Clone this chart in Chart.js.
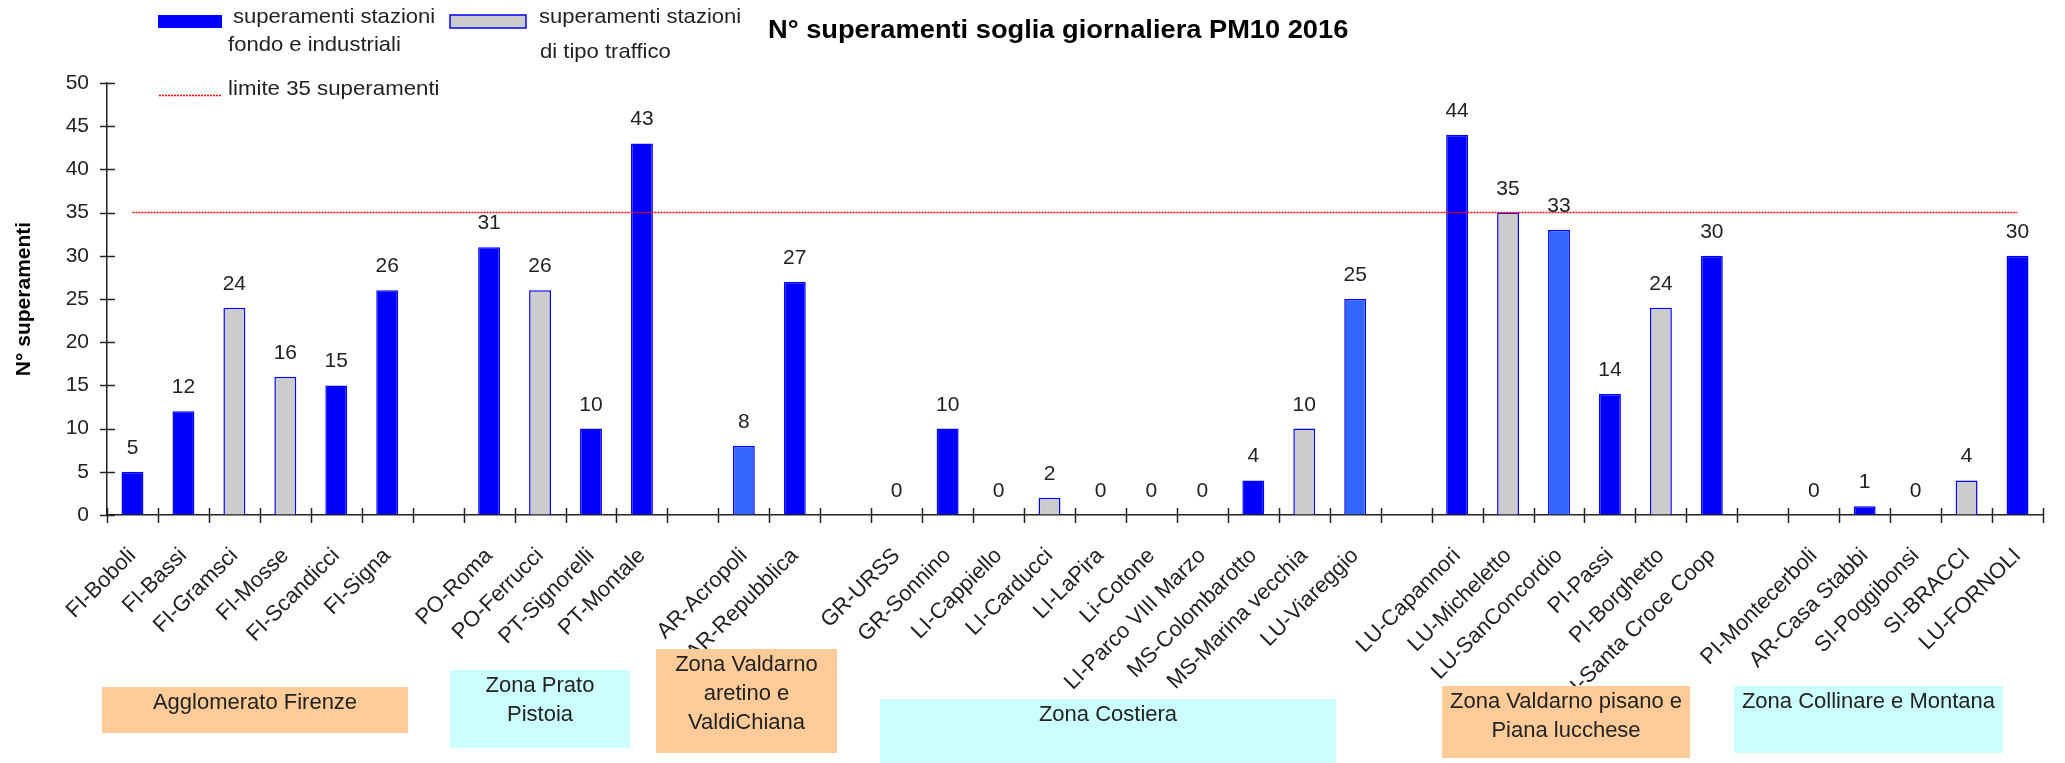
<!DOCTYPE html>
<html>
<head>
<meta charset="utf-8">
<script src="https://cdn.jsdelivr.net/npm/chart.js@4"></script>
<style>
  html, body { margin: 0; padding: 0; background: #fff; }
  #wrap { width: 2065px; height: 763px; }
</style>
</head>
<body>
<div id="wrap"><canvas id="pm10Chart" width="2065" height="763"></canvas></div>
<script>
// stations along the x axis ('' = empty slot between zones)
const stations = [
  "FI-Boboli", "FI-Bassi", "FI-Gramsci", "FI-Mosse", "FI-Scandicci", "FI-Signa", "",
  "PO-Roma", "PO-Ferrucci", "PT-Signorelli", "PT-Montale", "",
  "AR-Acropoli", "AR-Repubblica", "",
  "GR-URSS", "GR-Sonnino", "LI-Cappiello", "LI-Carducci", "LI-LaPira", "Li-Cotone",
  "LI-Parco VIII Marzo", "MS-Colombarotto", "MS-Marina vecchia", "LU-Viareggio", "",
  "LU-Capannori", "LU-Micheletto", "LU-SanConcordio", "PI-Passi", "PI-Borghetto", "PI-Santa Croce Coop", "",
  "PI-Montecerboli", "AR-Casa Stabbi", "SI-Poggibonsi", "SI-BRACCI", "LU-FORNOLI"
];

// n. of days above the PM10 daily limit, 2016
const exceedances = [
  5, 12, 24, 16, 15, 26, null,
  31, 26, 10, 43, null,
  8, 27, null,
  0, 10, 0, 2, 0, 0, 0, 4, 10, 25, null,
  44, 35, 33, 14, 24, 30, null,
  0, 1, 0, 4, 30
];

// F = fondo/industriale, T = traffico, S = fondo (other shade)
const stationType = [
  "F", "F", "T", "T", "F", "F", "",
  "F", "T", "F", "F", "",
  "S", "F", "",
  "F", "F", "F", "T", "F", "F", "F", "F", "T", "S", "",
  "F", "T", "S", "F", "T", "F", "",
  "F", "F", "F", "T", "F"
];

const limitValue = 35;
const yTicks = { min: 0, max: 50, step: 5 };

const zoneNames = [
  ["Agglomerato Firenze"],
  ["Zona Prato", "Pistoia"],
  ["Zona Valdarno", "aretino e", "ValdiChiana"],
  ["Zona Costiera"],
  ["Zona Valdarno pisano e", "Piana lucchese"],
  ["Zona Collinare e Montana"]
];

// layout of the zone boxes (pixels) and their colours
const zoneBoxes = [
  { x0: 102, x1: 408, y0: 687, y1: 733, color: "#FFCC99" },
  { x0: 450, x1: 630, y0: 670, y1: 748, color: "#CCFFFF" },
  { x0: 656, x1: 837, y0: 649, y1: 753, color: "#FFCC99" },
  { x0: 880, x1: 1336, y0: 699, y1: 763, color: "#CCFFFF" },
  { x0: 1442, x1: 1690, y0: 686, y1: 758, color: "#FFCC99" },
  { x0: 1734, x1: 2003, y0: 686, y1: 753, color: "#CCFFFF" }
];

const FONT = "'Liberation Sans', Arial, sans-serif";
const typeColor = { F: "#0000FF", T: "#CCCCCC", S: "#3366FF", "": "#0000FF" };

function stretchText(ctx, txt, x, y, sx, align) {
  ctx.save();
  ctx.translate(x, y);
  ctx.scale(sx, 1);
  ctx.textAlign = align || "left";
  ctx.textBaseline = "alphabetic";
  ctx.fillText(txt, 0, 0);
  ctx.restore();
}

const overlay = {
  id: "overlay",
  afterDatasetsDraw(chart) {
    const ctx = chart.ctx;
    const area = chart.chartArea;
    const yScale = chart.scales.y;

    // tick marks crossing the axes
    ctx.save();
    ctx.strokeStyle = "#222";
    ctx.lineWidth = 1.5;
    const w = (area.right - area.left) / stations.length;
    for (let i = 0; i <= stations.length; i++) {
      const x = Math.round(area.left + i * w) + 0.5;
      ctx.beginPath();
      ctx.moveTo(x, area.bottom - 7);
      ctx.lineTo(x, area.bottom + 8);
      ctx.stroke();
    }
    for (let v = yTicks.min; v <= yTicks.max; v += yTicks.step) {
      const y = Math.round(yScale.getPixelForValue(v)) + 0.5;
      ctx.beginPath();
      ctx.moveTo(area.left - 7, y);
      ctx.lineTo(area.left + 8, y);
      ctx.stroke();
    }
    ctx.restore();

    // value labels above the bars
    const meta = chart.getDatasetMeta(1);
    ctx.save();
    ctx.fillStyle = "#222";
    ctx.font = "21px " + FONT;
    ctx.textAlign = "center";
    ctx.textBaseline = "alphabetic";
    meta.data.forEach((bar, i) => {
      if (exceedances[i] === null) return;
      ctx.fillText(String(exceedances[i]), bar.x, bar.y - 18);
    });
    ctx.restore();
  },
  afterDraw(chart) {
    const ctx = chart.ctx;
    ctx.save();

    // zone boxes (drawn over the axis labels)
    zoneBoxes.forEach((b, i) => {
      ctx.fillStyle = b.color;
      ctx.fillRect(b.x0, b.y0, b.x1 - b.x0, b.y1 - b.y0);
      ctx.fillStyle = "#222";
      ctx.font = "22px " + FONT;
      zoneNames[i].forEach((line, k) => {
        stretchText(ctx, line, (b.x0 + b.x1) / 2, b.y0 + 22 + k * 29, 1, "center");
      });
    });

    // title
    ctx.fillStyle = "#000";
    ctx.font = "bold 25px " + FONT;
    stretchText(ctx, "N° superamenti soglia giornaliera PM10 2016", 768, 38, 1.09);

    // legend
    ctx.fillStyle = "#0000FF";
    ctx.fillRect(158, 15, 64, 13);
    ctx.fillStyle = "#CCCCCC";
    ctx.fillRect(450, 15, 76, 13);
    ctx.strokeStyle = "#0000FF";
    ctx.lineWidth = 1.5;
    ctx.strokeRect(450, 15, 76, 13);

    ctx.strokeStyle = "#FF0000";
    ctx.setLineDash([2, 1]);
    ctx.beginPath();
    ctx.moveTo(159, 95.5);
    ctx.lineTo(221, 95.5);
    ctx.stroke();
    ctx.setLineDash([]);

    ctx.fillStyle = "#222";
    ctx.font = "21px " + FONT;
    stretchText(ctx, "superamenti stazioni", 233, 23, 1.05);
    stretchText(ctx, "fondo e industriali", 228, 51, 1.05);
    stretchText(ctx, "superamenti stazioni", 539, 23, 1.05);
    stretchText(ctx, "di tipo traffico", 540, 58, 1.05);
    stretchText(ctx, "limite 35 superamenti", 228, 95, 1.06);
    ctx.restore();
  }
};

const chart = new Chart("pm10Chart", {
  type: "bar",
  data: {
    labels: stations,
    datasets: [
      {
        type: "line",
        label: "limite 35 superamenti",
        data: stations.map(() => limitValue),
        borderColor: "#FF0000",
        borderWidth: 1.5,
        borderDash: [2, 1],
        pointRadius: 0,
        fill: false,
        order: 0
      },
      {
        label: "superamenti",
        data: exceedances,
        backgroundColor: stationType.map(t => typeColor[t]),
        borderColor: "#0000FF",
        borderWidth: 1.5,
        barPercentage: 0.43,
        categoryPercentage: 1,
        order: 1
      }
    ]
  },
  options: {
    responsive: false,
    animation: false,
    layout: { padding: { top: 83, right: 22, left: 0, bottom: 0 } },
    plugins: {
      legend: { display: false },
      tooltip: { enabled: false }
    },
    scales: {
      x: {
        grid: { drawOnChartArea: false, drawTicks: false },
        border: { display: true, color: "#222", width: 1.5 },
        ticks: {
          autoSkip: false,
          minRotation: 45,
          maxRotation: 45,
          padding: 28,
          color: "#222",
          font: { family: FONT, size: 22 }
        },
        afterFit(scale) { scale.height = 248; }
      },
      y: {
        min: yTicks.min,
        max: yTicks.max,
        grid: { drawOnChartArea: false, drawTicks: false },
        border: { display: true, color: "#222", width: 1.5 },
        ticks: {
          stepSize: yTicks.step,
          padding: 18,
          color: "#222",
          font: { family: FONT, size: 21 }
        },
        title: {
          display: true,
          text: "N° superamenti",
          color: "#000",
          font: { family: FONT, size: 21, weight: "bold" },
          padding: { top: 12, bottom: 0 }
        },
        afterFit(scale) { scale.width = 107; }
      }
    }
  },
  plugins: [overlay]
});
</script>
</body>
</html>
